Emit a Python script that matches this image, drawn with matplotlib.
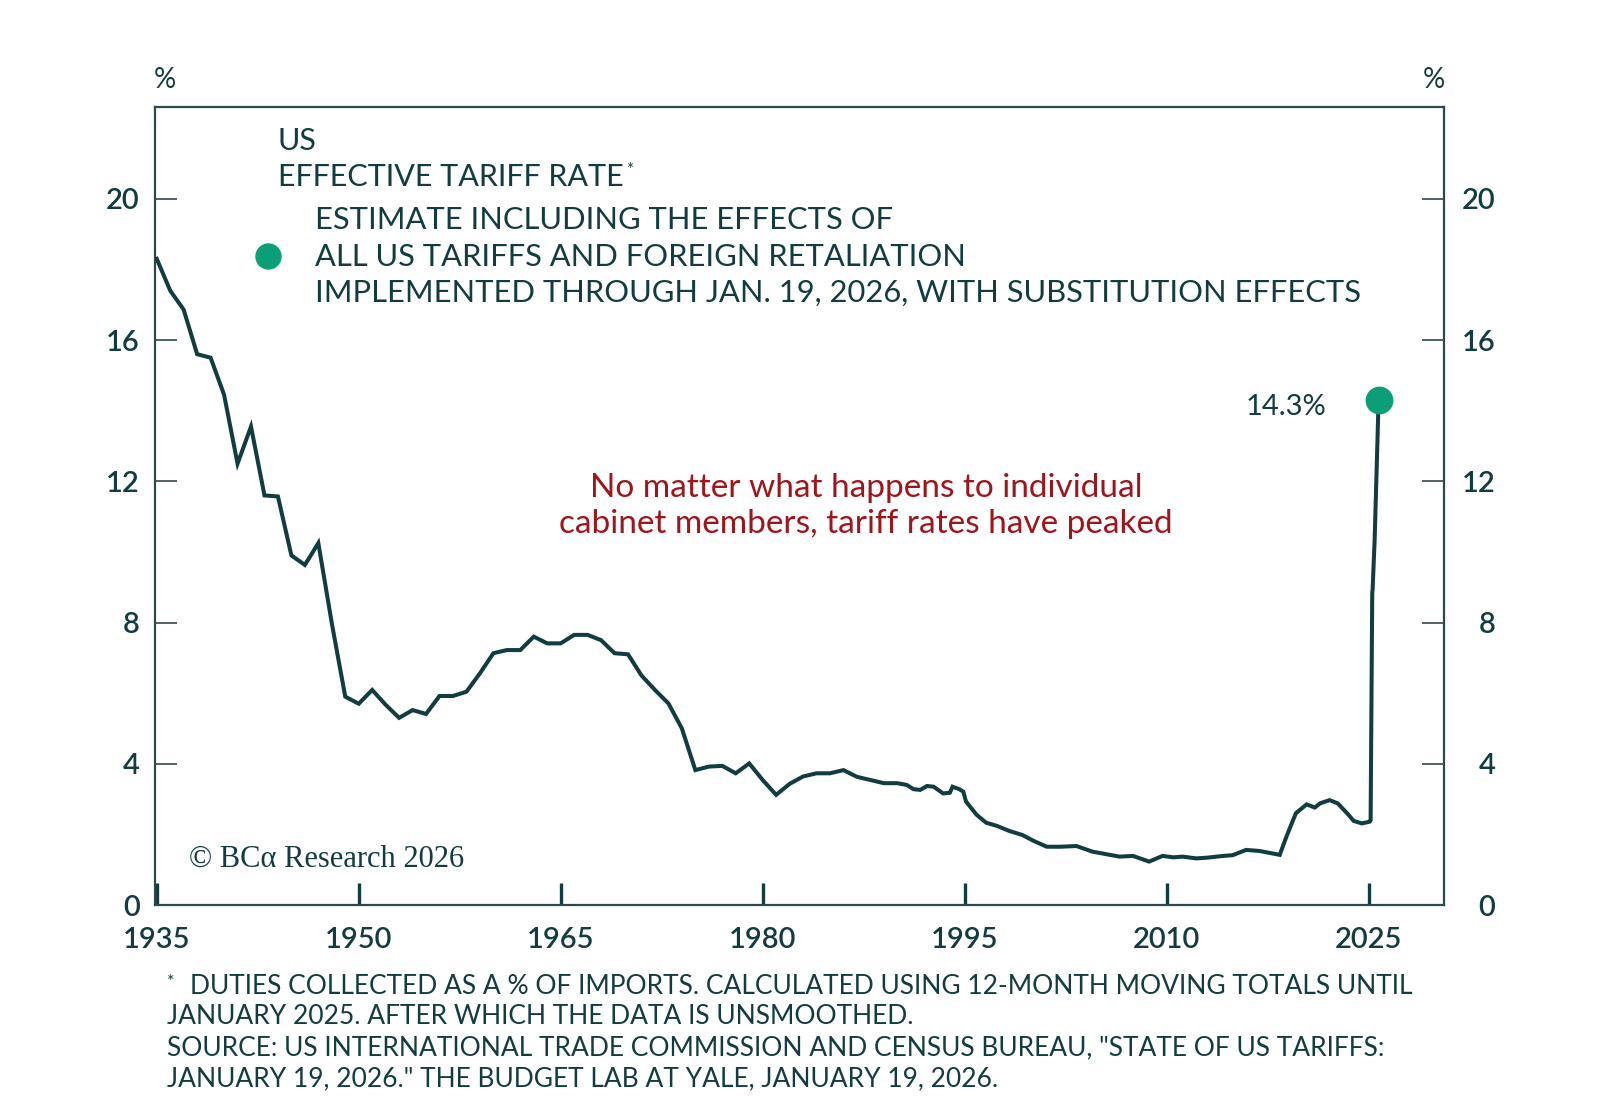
import matplotlib

matplotlib.use("Agg")

import matplotlib.pyplot as plt
import matplotlib.transforms as mtransforms

# US effective tariff rate, %
years = [
    1935, 1936, 1937, 1938, 1939, 1940, 1941, 1942, 1943, 1944,
    1945, 1946, 1947, 1948, 1949, 1950, 1951, 1952, 1953, 1954,
    1955, 1956, 1957, 1958, 1959, 1960, 1961, 1962, 1963, 1964,
    1965, 1966, 1967, 1968, 1969, 1970, 1971, 1972, 1973, 1974,
    1975, 1976, 1977, 1978, 1979, 1980, 1981, 1982, 1983, 1984,
    1985, 1986, 1987, 1988, 1989, 1990, 1990.7, 1991.2, 1991.7, 1992.2,
    1992.7, 1993.4, 1993.9, 1994.1, 1994.6, 1994.9, 1995.1, 1995.5, 1995.9, 1996.6,
    1997.4, 1998.3, 1999.3, 2000.1, 2001.1, 2002.1, 2003.3, 2004.5, 2005.5, 2006.5,
    2007.5, 2008.7, 2009.7, 2010.5, 2011.2, 2012.2, 2013.0, 2014.2, 2014.9, 2015.9,
    2016.9, 2018.4, 2018.9, 2019.6, 2020.4, 2021.0, 2021.4, 2022.1, 2022.7, 2023.4,
    2023.9, 2024.5, 2025.08, 2025.15, 2025.27, 2025.30, 2025.45, 2025.72, 2025.8,
]
rates = [
    18.3, 17.4, 16.86, 15.6, 15.5, 14.45, 12.5, 13.55, 11.6, 11.57,
    9.9, 9.63, 10.25, 7.98, 5.9, 5.7, 6.09, 5.67, 5.3, 5.52,
    5.41, 5.92, 5.92, 6.04, 6.56, 7.13, 7.22, 7.22, 7.6, 7.41,
    7.41, 7.65, 7.65, 7.5, 7.13, 7.1, 6.5, 6.09, 5.71, 5.0,
    3.82, 3.92, 3.94, 3.73, 4.01, 3.54, 3.12, 3.43, 3.64, 3.73,
    3.73, 3.82, 3.63, 3.54, 3.45, 3.45, 3.40, 3.28, 3.26, 3.37,
    3.35, 3.16, 3.18, 3.35, 3.28, 3.21, 2.93, 2.74, 2.55, 2.33,
    2.24, 2.10, 1.98, 1.82, 1.65, 1.65, 1.67, 1.51, 1.44, 1.37,
    1.39, 1.23, 1.39, 1.35, 1.37, 1.32, 1.34, 1.39, 1.41, 1.56,
    1.53, 1.42, 1.94, 2.60, 2.85, 2.76, 2.88, 2.97, 2.88, 2.60,
    2.38, 2.31, 2.36, 2.40, 8.83, 8.95, 10.35, 14.0, 14.3,
]

estimate_year = 2025.8
estimate_rate = 14.3

x_ticks = [1935, 1950, 1965, 1980, 1995, 2010, 2025]
y_ticks = [0, 4, 8, 12, 16, 20]

LINE = "#123c3f"
SPINE = "#2c4a4d"
GREEN = "#0c9e77"
RED = "#9e161c"
FONT = ["Lato", "DejaVu Sans"]

W, H = 1600, 1107


def fx(px):
    return px / W


def fy(py):
    return 1 - py / H


plt.rcParams["font.family"] = FONT

fig = plt.figure(figsize=(16, 11.07), dpi=100)
fig.patch.set_facecolor("white")
ax = fig.add_axes([fx(155), fy(905), fx(1444) - fx(155), fy(107) - fy(905)])

ax.plot(years, rates, color=LINE, linewidth=2.9, solid_joinstyle="miter", zorder=3)
ax.plot([estimate_year], [estimate_rate], "o", color=GREEN, markersize=20,
        markeredgewidth=0, zorder=4)
ax.text(estimate_year - 3.9, estimate_rate - 0.2, f"{estimate_rate}%", ha="right",
        va="center", fontsize=21, color=LINE)

ax.set_xlim(1934.87, 2030.6)
ax.set_ylim(0, 22.6)

for side in ["left", "right", "top", "bottom"]:
    ax.spines[side].set_color(SPINE)
    ax.spines[side].set_linewidth(1.6)

ax.set_xticks(x_ticks)
ax.set_yticks(y_ticks)
ax.tick_params(axis="x", direction="in", length=16, width=2.4, color=LINE,
               labelsize=21, labelcolor=LINE, pad=16)
ax.tick_params(axis="y", direction="in", length=16, width=1.2, color=SPINE,
               labelsize=21, labelcolor=LINE, pad=11,
               left=True, right=True, labelleft=True, labelright=True)
for lab in ax.get_xticklabels() + ax.get_yticklabels():
    lab.set_fontweight("semibold")

# right tick labels are right aligned at ~1494 px
offset = mtransforms.ScaledTranslation(26 / 72, 0, fig.dpi_scale_trans)
for t in ax.yaxis.get_major_ticks():
    t.label2.set_horizontalalignment("right")
    t.label2.set_fontweight("semibold")
    t.label2.set_transform(t.label2.get_transform() + offset)

fig.text(fx(165), fy(80), "%", ha="center", va="center", fontsize=20, color=LINE)
fig.text(fx(1434), fy(80), "%", ha="center", va="center", fontsize=20, color=LINE)

# title and legend
fig.text(fx(278), fy(141), "US", ha="left", va="center", fontsize=22, color=LINE)
fig.text(fx(278), fy(177), "EFFECTIVE TARIFF RATE", ha="left", va="center",
         fontsize=22, color=LINE)
fig.text(fx(626), fy(170), "*", ha="left", va="center", fontsize=12, color=LINE)
legend_lines = [
    "ESTIMATE INCLUDING THE EFFECTS OF",
    "ALL US TARIFFS AND FOREIGN RETALIATION",
    "IMPLEMENTED THROUGH JAN. 19, 2026, WITH SUBSTITUTION EFFECTS",
]
for i, line in enumerate(legend_lines):
    fig.text(fx(315), fy(220 + 36.5 * i), line, ha="left", va="center",
             fontsize=22.2, color=LINE)
fig.lines.append(plt.Line2D([fx(268)], [fy(256)], marker="o", color=GREEN,
                            markersize=19, markeredgewidth=0,
                            transform=fig.transFigure))

# annotation
fig.text(fx(866), fy(488), "No matter what happens to individual", ha="center",
         va="center", fontsize=24, color=RED)
fig.text(fx(866), fy(524), "cabinet members, tariff rates have peaked",
         ha="center", va="center", fontsize=24, color=RED)

# copyright
fig.text(fx(189), fy(859), "\u00a9 BC\u03b1 Research 2026", ha="left", va="center",
         fontsize=22, color=LINE, family="Liberation Serif")

# footnotes
notes = [
    "DUTIES COLLECTED AS A % OF IMPORTS. CALCULATED USING 12-MONTH MOVING TOTALS UNTIL",
    "JANUARY 2025. AFTER WHICH THE DATA IS UNSMOOTHED.",
    "SOURCE: US INTERNATIONAL TRADE COMMISSION AND CENSUS BUREAU, \"STATE OF US TARIFFS:",
    "JANUARY 19, 2026.\" THE BUDGET LAB AT YALE, JANUARY 19, 2026.",
]
fig.text(fx(171), fy(982), "*", ha="center", va="center", fontsize=13, color=LINE)
fig.text(fx(190), fy(986), notes[0], ha="left", va="center", fontsize=19, color=LINE)
for i, line in enumerate(notes[1:], start=1):
    fig.text(fx(167), fy(986 + 31 * i), line, ha="left", va="center",
             fontsize=19, color=LINE)

fig.savefig("out.png", dpi=100, facecolor="white")
